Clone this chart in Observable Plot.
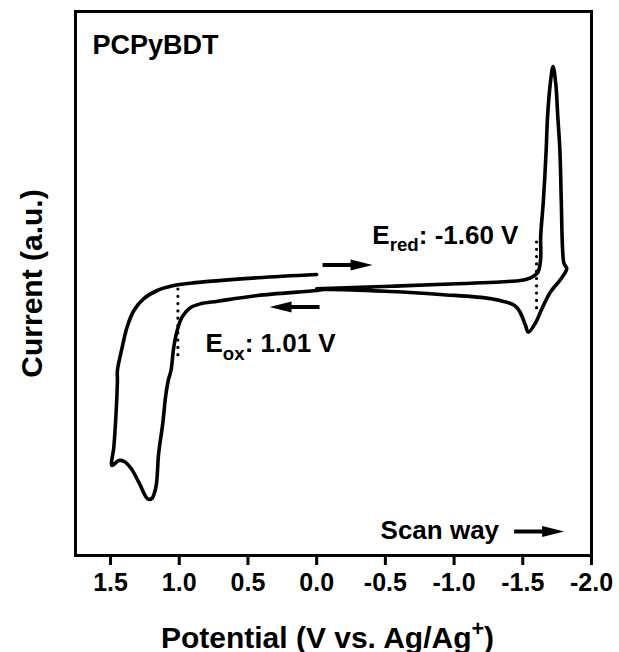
<!DOCTYPE html>
<html>
<head>
<meta charset="utf-8">
<script src="https://cdn.jsdelivr.net/npm/d3@7"></script>
<script src="https://cdn.jsdelivr.net/npm/@observablehq/plot@0.6"></script>
<style>
  html, body { margin: 0; padding: 0; background: #fff; }
  #chart { width: 619px; height: 652px; }
</style>
</head>
<body>
<div id="chart"></div>
<script>
// Cyclic voltammogram of PCPyBDT, scan starts at 0.0 V and runs toward negative potential
const potential = [
  0.00, -0.54, -1.02, -1.39, -1.48, -1.56, -1.61, -1.63, -1.63, -1.65, -1.67, -1.68, -1.70, -1.72,
  -1.74, -1.755, -1.77, -1.78, -1.79, -1.80, -1.82,
  -1.78, -1.70, -1.64, -1.59, -1.54, -1.52, -1.48, -1.44, -1.27, -0.90, -0.54, -0.05, 0.00,
  0.43, 0.72, 0.845, 0.92, 0.98, 1.015, 1.04, 1.06, 1.08, 1.10, 1.12, 1.15, 1.17, 1.20, 1.23,
  1.29, 1.35, 1.40, 1.44, 1.49,
  1.476, 1.46, 1.45, 1.45, 1.415, 1.38, 1.33, 1.26, 1.16, 1.04, 0.92, 0.43, 0.00
];
const current = [
  -0.97, -0.50, -0.06, 0.37, 0.55, 1.10, 2.08, 4.60, 8.51, 15.26, 24.45, 30.57, 36.71, 39.89,
  36.71, 30.57, 24.45, 15.26, 6.07, 3.68, 2.76,
  0.92, -1.60, -4.60, -7.35, -8.95, -7.72, -5.28, -4.04, -2.81, -2.02, -1.47, -1.10, -1.29,
  -2.21, -3.25, -3.73, -4.47, -6.19, -8.64, -11.71, -15.99, -17.83, -20.90, -25.74, -31.25, -37.45, -39.52, -39.58,
  -36.76, -34.01, -32.72, -32.54, -33.46,
  -30.09, -23.90, -17.83, -15.99, -11.71, -8.03, -4.96, -2.81, -1.29, -0.37, 0.06, 1.05, 1.65
];

// x axis ticks (V vs. Ag/Ag+)
const xTicks = [1.5, 1.0, 0.5, 0.0, -0.5, -1.0, -1.5, -2.0];

// onset potentials: dotted markers and their labels
const onsetPotential = [1.01, -1.60];
const onsetTop = [-1.10, 7.54];
const onsetBottom = [-13.24, -4.60];
const onsetLabel = ["E_{ox}: 1.01 V", "E_{red}: -1.60 V"];
const onsetLabelX = [0.809, -0.405];
const onsetLabelY = [-12.68, 7.35];

// scan-direction arrows (centre position and direction)
const arrowX = [-0.225, 0.161, -1.619];
const arrowY = [3.40, -4.32, -45.6];
const arrowDir = [1, -1, 1];

const sampleName = "PCPyBDT";
const scanText = "Scan way";
const scanTextX = -0.465;
const scanTextY = -46.9;
const xLabel = "Potential (V vs. Ag/Ag^{+})";
const yLabel = "Current (a.u.)";

const cv = potential.map((v, i) => ({v, i: current[i]}));
const onsets = onsetPotential.map((v, k) => ({v, top: onsetTop[k], bottom: onsetBottom[k], label: onsetLabel[k], lx: onsetLabelX[k], ly: onsetLabelY[k]}));
const arrows = arrowX.map((x, k) => ({x, y: arrowY[k], dir: arrowDir[k]}));

// filled arrow glyph: thin shaft with a long triangular head pointing right
const arrowSymbol = {
  draw(ctx) {
    ctx.moveTo(-25, -2);
    ctx.lineTo(3, -2);
    ctx.lineTo(3, -5.5);
    ctx.lineTo(25, 0);
    ctx.lineTo(3, 5.5);
    ctx.lineTo(3, 2);
    ctx.lineTo(-25, 2);
    ctx.closePath();
  }
};

const font = "'Liberation Sans', Arial, Helvetica, sans-serif";

const chart = Plot.plot({
  width: 619,
  height: 652,
  marginLeft: 75,
  marginRight: 28,
  marginTop: 11,
  marginBottom: 97,
  style: {fontFamily: font, fontWeight: "bold", color: "#000", background: "#fff", overflow: "visible"},
  x: {domain: [1.755, -2.0], label: null},
  y: {domain: [-50, 50], axis: null},
  marks: [
    Plot.frame({stroke: "#000", strokeWidth: 3}),
    Plot.axisX({
      ticks: xTicks,
      tickFormat: d => d.toFixed(1),
      tickSize: 10,
      tickPadding: 8,
      strokeWidth: 3,
      fontSize: 25,
      fontWeight: "bold",
      label: null
    }),
    Plot.ruleX(onsets, {
      x: "v", y1: "top", y2: "bottom",
      stroke: "#000", strokeWidth: 3.2,
      strokeDasharray: "0 7.3", strokeLinecap: "round"
    }),
    Plot.line(cv, {
      x: "v", y: "i",
      curve: "catmull-rom",
      stroke: "#000", strokeWidth: 3.6,
      strokeLinejoin: "round", strokeLinecap: "round"
    }),
    Plot.dot(arrows, {
      x: "x", y: "y",
      symbol: arrowSymbol,
      rotate: d => (d.dir < 0 ? 180 : 0),
      fill: "#000", stroke: "none"
    }),
    Plot.text(onsets, {
      x: "lx", y: "ly", text: "label",
      textAnchor: "start", lineAnchor: "bottom",
      fontSize: 26, fontWeight: "bold", fill: "#000"
    }),
    Plot.text([scanText], {
      x: () => scanTextX, y: () => scanTextY, text: d => d,
      textAnchor: "start", lineAnchor: "bottom",
      fontSize: 26, fontWeight: "bold", fill: "#000"
    }),
    Plot.text([sampleName], {
      frameAnchor: "top-left", text: d => d,
      dx: 17, dy: 23, textAnchor: "start", lineAnchor: "top",
      fontSize: 27, fontWeight: "bold", fill: "#000"
    }),
    Plot.text([xLabel], {
      frameAnchor: "bottom", text: d => d,
      dx: -6, dy: 92, textAnchor: "middle", lineAnchor: "bottom",
      fontSize: 30, fontWeight: "bold", fill: "#000"
    }),
    Plot.text([yLabel], {
      frameAnchor: "left", text: d => d,
      dx: -43, rotate: -90, textAnchor: "middle", lineAnchor: "middle",
      fontSize: 30, fontWeight: "bold", fill: "#000"
    })
  ]
});

document.getElementById("chart").appendChild(chart);

// turn _{...} and ^{...} into subscript / superscript tspans
d3.select(chart).selectAll("text").each(function() {
  const t = this.textContent;
  if (!/[_^]\{/.test(t)) return;
  const fs = parseFloat(getComputedStyle(this).fontSize) || 26;
  const parts = t.split(/([_^]\{[^}]*\})/).filter(s => s.length);
  this.textContent = "";
  let shift = 0;
  for (const p of parts) {
    let target = 0, txt = p, small = false;
    if (p.startsWith("_{")) { target = 0.3 * fs; txt = p.slice(2, -1); small = true; }
    else if (p.startsWith("^{")) { target = -0.4 * fs; txt = p.slice(2, -1); small = true; }
    const ts = d3.select(this).append("tspan").text(txt);
    if (target - shift !== 0) ts.attr("dy", target - shift);
    if (small) ts.attr("font-size", (0.72 * fs).toFixed(1));
    shift = target;
  }
});
</script>
</body>
</html>
